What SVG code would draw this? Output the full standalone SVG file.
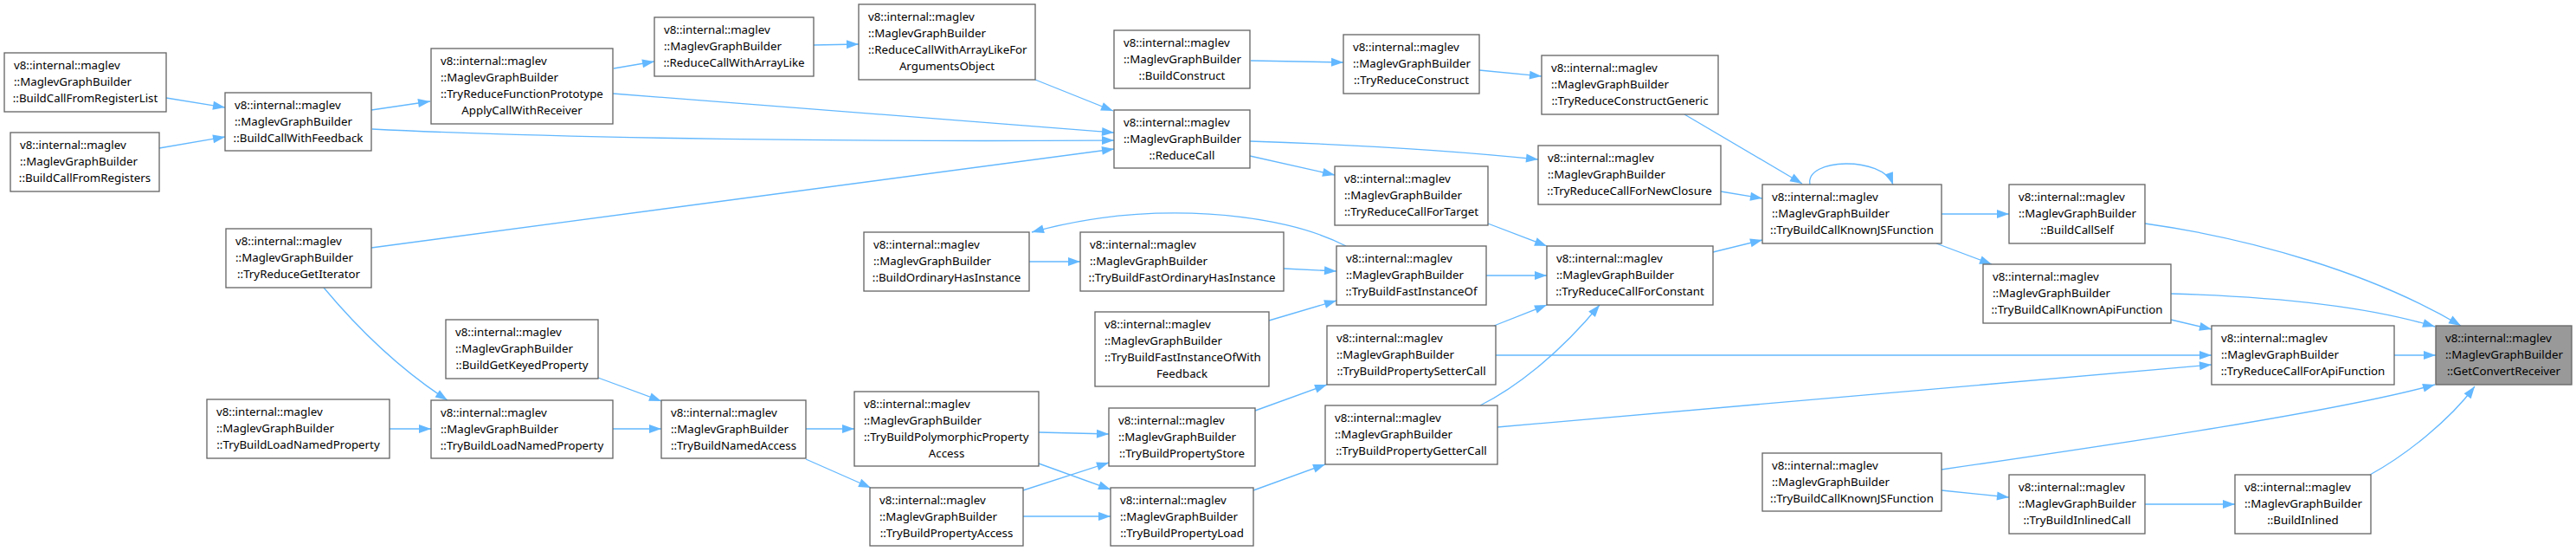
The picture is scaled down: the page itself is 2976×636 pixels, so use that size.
<svg xmlns="http://www.w3.org/2000/svg" width="2976" height="636" viewBox="0 0 2976 636">
<style>
.n rect{fill:#ffffff;stroke:#666666;stroke-width:1.33}
.root rect{fill:#999999}
text{font-family:"Noto Sans","Open Sans","DejaVu Sans",sans-serif;font-size:13.3px;fill:#000}
.m{text-anchor:middle}
.e path{fill:none;stroke:#63b8ff;stroke-width:1.33;marker-end:url(#arr)}
</style>
<defs>
<marker id="arr" markerUnits="userSpaceOnUse" markerWidth="15" markerHeight="11" refX="14" refY="5" orient="auto" overflow="visible">
<path d="M0,0 L14,5 L0,10 z" fill="#63b8ff" stroke="none"/>
</marker>
</defs>
<rect width="2976" height="636" fill="#ffffff"/>
<g id="edges" class="e">
<path d="M192,113 L260,124"/>
<path d="M184,171 L260,158"/>
<path d="M429,127 L497,117"/>
<path d="M430,149 C650,160 1000,164 1287,162"/>
<path d="M429,286 L1287,172"/>
<path d="M374,332 C410,375 460,425 517,462"/>
<path d="M709,79 L756,71"/>
<path d="M708,108 L1287,153"/>
<path d="M940,52 L992,51"/>
<path d="M1196,92 L1286,128"/>
<path d="M1445,70 L1552,72"/>
<path d="M1444,163 C1600,168 1700,176 1777,184"/>
<path d="M1444,180 L1542,202"/>
<path d="M1709,81 L1781,88"/>
<path d="M1946,132 L2082,212"/>
<path d="M1988,221 L2036,229"/>
<path d="M1719,258 L1787,284"/>
<path d="M1979,291 L2036,277"/>
<path d="M2091,213 C2085,182 2175,180 2187,213"/>
<path d="M2243,247 L2321,247"/>
<path d="M2237,281 L2301,305"/>
<path d="M2478,258 C2600,275 2740,315 2843,376"/>
<path d="M2508,339 C2620,342 2730,352 2813,377"/>
<path d="M2508,369 L2555,380"/>
<path d="M2766,410 L2814,410"/>
<path d="M1728,410 L2555,410"/>
<path d="M1730,493 L2555,421"/>
<path d="M2243,542 C2450,512 2700,475 2813,444"/>
<path d="M2243,566 L2321,574"/>
<path d="M2478,582 L2582,582"/>
<path d="M2738,548 C2780,525 2830,485 2859,446"/>
<path d="M1717,318 L1787,318"/>
<path d="M1555,284 C1480,245 1330,230 1192,268"/>
<path d="M1189,302 L1248,302"/>
<path d="M1483,310 L1544,313"/>
<path d="M1466,370 L1544,347"/>
<path d="M1726,376 L1787,352"/>
<path d="M1710,468 C1750,448 1800,410 1848,352"/>
<path d="M1450,474 L1533,444"/>
<path d="M1448,566 L1531,536"/>
<path d="M1200,499 L1281,501"/>
<path d="M1200,535 L1283,565"/>
<path d="M1182,566 L1281,534"/>
<path d="M1182,596 L1283,596"/>
<path d="M931,495 L987,495"/>
<path d="M931,530 L1006,563"/>
<path d="M691,436 L764,463"/>
<path d="M708,495 L764,495"/>
<path d="M450,495 L498,495"/>
</g>
<g id="n1" class="n"><rect x="5" y="61" width="187" height="68"/><text x="16" y="79.5">v8::internal::maglev</text><text x="16" y="98.5">::MaglevGraphBuilder</text><text class="m" x="98.5" y="117.5">::BuildCallFromRegisterList</text></g>
<g id="n2" class="n"><rect x="12" y="153" width="172" height="68"/><text x="23" y="171.5">v8::internal::maglev</text><text x="23" y="190.5">::MaglevGraphBuilder</text><text class="m" x="98" y="209.5">::BuildCallFromRegisters</text></g>
<g id="n3" class="n"><rect x="260" y="107" width="169" height="67"/><text x="271" y="125.5">v8::internal::maglev</text><text x="271" y="144.5">::MaglevGraphBuilder</text><text class="m" x="344.5" y="163.5">::BuildCallWithFeedback</text></g>
<g id="n4" class="n"><rect x="261" y="264" width="168" height="68"/><text x="272" y="282.5">v8::internal::maglev</text><text x="272" y="301.5">::MaglevGraphBuilder</text><text class="m" x="345" y="320.5">::TryReduceGetIterator</text></g>
<g id="n5" class="n"><rect x="239" y="461" width="211" height="68"/><text x="250" y="479.5">v8::internal::maglev</text><text x="250" y="498.5">::MaglevGraphBuilder</text><text class="m" x="344.5" y="517.5">::TryBuildLoadNamedProperty</text></g>
<g id="n6" class="n"><rect x="498" y="56" width="210" height="87"/><text x="509" y="74.5">v8::internal::maglev</text><text x="509" y="93.5">::MaglevGraphBuilder</text><text x="509" y="112.5">::TryReduceFunctionPrototype</text><text class="m" x="603" y="131.5">ApplyCallWithReceiver</text></g>
<g id="n7" class="n"><rect x="515" y="369" width="176" height="68"/><text x="526" y="387.5">v8::internal::maglev</text><text x="526" y="406.5">::MaglevGraphBuilder</text><text class="m" x="603" y="425.5">::BuildGetKeyedProperty</text></g>
<g id="n8" class="n"><rect x="498" y="462" width="210" height="67"/><text x="509" y="480.5">v8::internal::maglev</text><text x="509" y="499.5">::MaglevGraphBuilder</text><text class="m" x="603" y="518.5">::TryBuildLoadNamedProperty</text></g>
<g id="n9" class="n"><rect x="756" y="20" width="184" height="68"/><text x="767" y="38.5">v8::internal::maglev</text><text x="767" y="57.5">::MaglevGraphBuilder</text><text class="m" x="848" y="76.5">::ReduceCallWithArrayLike</text></g>
<g id="n10" class="n"><rect x="764" y="462" width="167" height="67"/><text x="775" y="480.5">v8::internal::maglev</text><text x="775" y="499.5">::MaglevGraphBuilder</text><text class="m" x="847.5" y="518.5">::TryBuildNamedAccess</text></g>
<g id="n11" class="n"><rect x="992" y="5" width="204" height="87"/><text x="1003" y="23.5">v8::internal::maglev</text><text x="1003" y="42.5">::MaglevGraphBuilder</text><text x="1003" y="61.5">::ReduceCallWithArrayLikeFor</text><text class="m" x="1094" y="80.5">ArgumentsObject</text></g>
<g id="n12" class="n"><rect x="998" y="268" width="191" height="68"/><text x="1009" y="286.5">v8::internal::maglev</text><text x="1009" y="305.5">::MaglevGraphBuilder</text><text class="m" x="1093.5" y="324.5">::BuildOrdinaryHasInstance</text></g>
<g id="n13" class="n"><rect x="987" y="452" width="213" height="86"/><text x="998" y="470.5">v8::internal::maglev</text><text x="998" y="489.5">::MaglevGraphBuilder</text><text x="998" y="508.5">::TryBuildPolymorphicProperty</text><text class="m" x="1093.5" y="527.5">Access</text></g>
<g id="n14" class="n"><rect x="1005" y="563" width="177" height="67"/><text x="1016" y="581.5">v8::internal::maglev</text><text x="1016" y="600.5">::MaglevGraphBuilder</text><text class="m" x="1093.5" y="619.5">::TryBuildPropertyAccess</text></g>
<g id="n15" class="n"><rect x="1287" y="35" width="157" height="67"/><text x="1298" y="53.5">v8::internal::maglev</text><text x="1298" y="72.5">::MaglevGraphBuilder</text><text class="m" x="1365.5" y="91.5">::BuildConstruct</text></g>
<g id="n16" class="n"><rect x="1287" y="127" width="157" height="67"/><text x="1298" y="145.5">v8::internal::maglev</text><text x="1298" y="164.5">::MaglevGraphBuilder</text><text class="m" x="1365.5" y="183.5">::ReduceCall</text></g>
<g id="n17" class="n"><rect x="1248" y="268" width="235" height="68"/><text x="1259" y="286.5">v8::internal::maglev</text><text x="1259" y="305.5">::MaglevGraphBuilder</text><text class="m" x="1365.5" y="324.5">::TryBuildFastOrdinaryHasInstance</text></g>
<g id="n18" class="n"><rect x="1265" y="360" width="201" height="86"/><text x="1276" y="378.5">v8::internal::maglev</text><text x="1276" y="397.5">::MaglevGraphBuilder</text><text x="1276" y="416.5">::TryBuildFastInstanceOfWith</text><text class="m" x="1365.5" y="435.5">Feedback</text></g>
<g id="n19" class="n"><rect x="1281" y="471" width="169" height="67"/><text x="1292" y="489.5">v8::internal::maglev</text><text x="1292" y="508.5">::MaglevGraphBuilder</text><text class="m" x="1365.5" y="527.5">::TryBuildPropertyStore</text></g>
<g id="n20" class="n"><rect x="1283" y="563" width="165" height="67"/><text x="1294" y="581.5">v8::internal::maglev</text><text x="1294" y="600.5">::MaglevGraphBuilder</text><text class="m" x="1365.5" y="619.5">::TryBuildPropertyLoad</text></g>
<g id="n21" class="n"><rect x="1552" y="40" width="157" height="68"/><text x="1563" y="58.5">v8::internal::maglev</text><text x="1563" y="77.5">::MaglevGraphBuilder</text><text class="m" x="1630.5" y="96.5">::TryReduceConstruct</text></g>
<g id="n22" class="n"><rect x="1542" y="192" width="177" height="68"/><text x="1553" y="210.5">v8::internal::maglev</text><text x="1553" y="229.5">::MaglevGraphBuilder</text><text class="m" x="1630.5" y="248.5">::TryReduceCallForTarget</text></g>
<g id="n23" class="n"><rect x="1544" y="284" width="173" height="68"/><text x="1555" y="302.5">v8::internal::maglev</text><text x="1555" y="321.5">::MaglevGraphBuilder</text><text class="m" x="1630.5" y="340.5">::TryBuildFastInstanceOf</text></g>
<g id="n24" class="n"><rect x="1533" y="376" width="195" height="68"/><text x="1544" y="394.5">v8::internal::maglev</text><text x="1544" y="413.5">::MaglevGraphBuilder</text><text class="m" x="1630.5" y="432.5">::TryBuildPropertySetterCall</text></g>
<g id="n25" class="n"><rect x="1531" y="468" width="199" height="68"/><text x="1542" y="486.5">v8::internal::maglev</text><text x="1542" y="505.5">::MaglevGraphBuilder</text><text class="m" x="1630.5" y="524.5">::TryBuildPropertyGetterCall</text></g>
<g id="n26" class="n"><rect x="1781" y="64" width="204" height="68"/><text x="1792" y="82.5">v8::internal::maglev</text><text x="1792" y="101.5">::MaglevGraphBuilder</text><text class="m" x="1883" y="120.5">::TryReduceConstructGeneric</text></g>
<g id="n27" class="n"><rect x="1777" y="168" width="211" height="68"/><text x="1788" y="186.5">v8::internal::maglev</text><text x="1788" y="205.5">::MaglevGraphBuilder</text><text class="m" x="1882.5" y="224.5">::TryReduceCallForNewClosure</text></g>
<g id="n28" class="n"><rect x="1787" y="284" width="192" height="68"/><text x="1798" y="302.5">v8::internal::maglev</text><text x="1798" y="321.5">::MaglevGraphBuilder</text><text class="m" x="1883" y="340.5">::TryReduceCallForConstant</text></g>
<g id="n29" class="n"><rect x="2036" y="213" width="207" height="68"/><text x="2047" y="231.5">v8::internal::maglev</text><text x="2047" y="250.5">::MaglevGraphBuilder</text><text class="m" x="2139.5" y="269.5">::TryBuildCallKnownJSFunction</text></g>
<g id="n30" class="n"><rect x="2036" y="523" width="207" height="67"/><text x="2047" y="541.5">v8::internal::maglev</text><text x="2047" y="560.5">::MaglevGraphBuilder</text><text class="m" x="2139.5" y="579.5">::TryBuildCallKnownJSFunction</text></g>
<g id="n31" class="n"><rect x="2321" y="213" width="157" height="68"/><text x="2332" y="231.5">v8::internal::maglev</text><text x="2332" y="250.5">::MaglevGraphBuilder</text><text class="m" x="2399.5" y="269.5">::BuildCallSelf</text></g>
<g id="n32" class="n"><rect x="2291" y="305" width="217" height="68"/><text x="2302" y="323.5">v8::internal::maglev</text><text x="2302" y="342.5">::MaglevGraphBuilder</text><text class="m" x="2399.5" y="361.5">::TryBuildCallKnownApiFunction</text></g>
<g id="n33" class="n"><rect x="2321" y="548" width="157" height="68"/><text x="2332" y="566.5">v8::internal::maglev</text><text x="2332" y="585.5">::MaglevGraphBuilder</text><text class="m" x="2399.5" y="604.5">::TryBuildInlinedCall</text></g>
<g id="n34" class="n"><rect x="2555" y="376" width="211" height="68"/><text x="2566" y="394.5">v8::internal::maglev</text><text x="2566" y="413.5">::MaglevGraphBuilder</text><text class="m" x="2660.5" y="432.5">::TryReduceCallForApiFunction</text></g>
<g id="n35" class="n"><rect x="2582" y="548" width="157" height="68"/><text x="2593" y="566.5">v8::internal::maglev</text><text x="2593" y="585.5">::MaglevGraphBuilder</text><text class="m" x="2660.5" y="604.5">::BuildInlined</text></g>
<g id="n36" class="n root"><rect x="2814" y="376" width="157" height="68"/><text x="2825" y="394.5">v8::internal::maglev</text><text x="2825" y="413.5">::MaglevGraphBuilder</text><text class="m" x="2892.5" y="432.5">::GetConvertReceiver</text></g>
</svg>
